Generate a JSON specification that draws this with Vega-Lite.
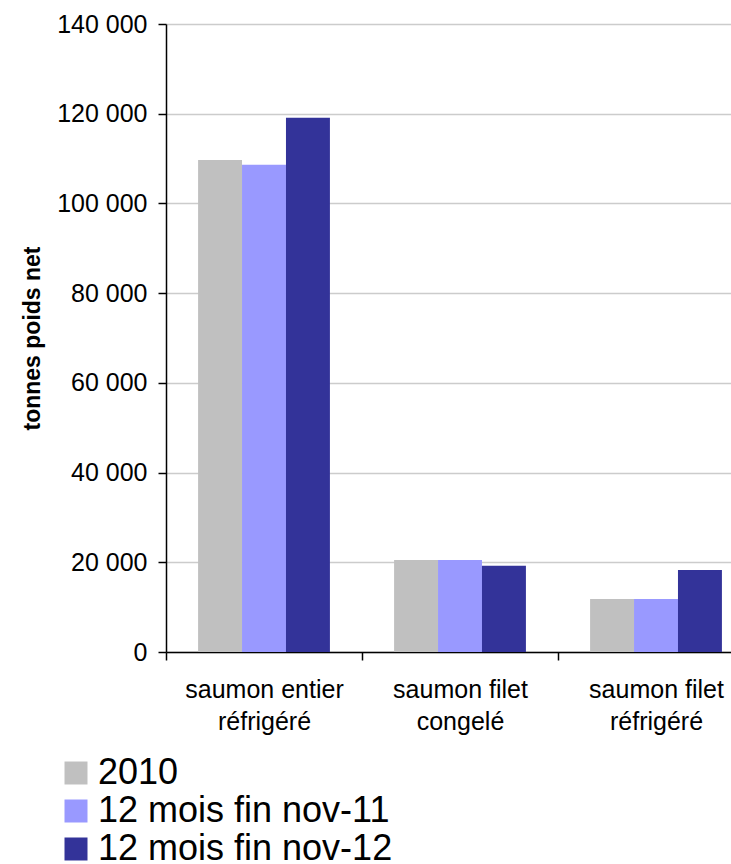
{
  "$schema": "https://vega.github.io/schema/vega-lite/v6.json",
  "width": 565,
  "height": 628,
  "autosize": {"type": "none"},
  "padding": {"left": 166, "top": 24, "right": 0, "bottom": 212},
  "background": "white",
  "data": {
    "values": [
      {"produit": "saumon entier réfrigéré", "serie": "2010", "tonnes": 109700},
      {"produit": "saumon entier réfrigéré", "serie": "12 mois fin nov-11", "tonnes": 108600},
      {"produit": "saumon entier réfrigéré", "serie": "12 mois fin nov-12", "tonnes": 119100},
      {"produit": "saumon filet congelé", "serie": "2010", "tonnes": 20500},
      {"produit": "saumon filet congelé", "serie": "12 mois fin nov-11", "tonnes": 20500},
      {"produit": "saumon filet congelé", "serie": "12 mois fin nov-12", "tonnes": 19200},
      {"produit": "saumon filet réfrigéré", "serie": "2010", "tonnes": 11800},
      {"produit": "saumon filet réfrigéré", "serie": "12 mois fin nov-11", "tonnes": 11800},
      {"produit": "saumon filet réfrigéré", "serie": "12 mois fin nov-12", "tonnes": 18300}
    ]
  },
  "mark": {"type": "bar", "clip": true},
  "encoding": {
    "x": {
      "field": "produit",
      "type": "nominal",
      "sort": ["saumon entier réfrigéré", "saumon filet congelé", "saumon filet réfrigéré"],
      "scale": {"range": [0, 588], "paddingInner": 0, "paddingOuter": 0},
      "axis": {
        "title": null,
        "labelAngle": 0,
        "labelExpr": "[slice(datum.label, 0, lastindexof(datum.label, ' ')), slice(datum.label, lastindexof(datum.label, ' ') + 1)]",
        "labelFont": "Liberation Sans",
        "labelFontSize": 25,
        "labelColor": "black",
        "labelLineHeight": 32,
        "labelPadding": 17,
        "labelLimit": 0,
        "domainColor": "black",
        "domainWidth": 1.5,
        "tickColor": "black",
        "tickWidth": 1.5,
        "tickSize": 8,
        "tickBand": "extent",
        "grid": false
      }
    },
    "xOffset": {
      "field": "serie",
      "sort": ["2010", "12 mois fin nov-11", "12 mois fin nov-12"],
      "scale": {"paddingInner": 0, "paddingOuter": 0.73}
    },
    "y": {
      "field": "tonnes",
      "type": "quantitative",
      "scale": {"domain": [0, 140000], "nice": false},
      "axis": {
        "title": "tonnes poids net",
        "titleFont": "Liberation Sans",
        "titleFontSize": 23,
        "titleFontWeight": "bold",
        "titleColor": "black",
        "titlePadding": 12,
        "values": [0, 20000, 40000, 60000, 80000, 100000, 120000, 140000],
        "labelExpr": "replace(format(datum.value, ','), ',', ' ')",
        "labelFont": "Liberation Sans",
        "labelFontSize": 25,
        "labelColor": "black",
        "labelPadding": 11,
        "domainColor": "black",
        "domainWidth": 1.5,
        "tickColor": "black",
        "tickWidth": 1.5,
        "tickSize": 8,
        "grid": true,
        "gridColor": "#cccccc",
        "gridWidth": 1.5
      }
    },
    "color": {
      "field": "serie",
      "type": "nominal",
      "sort": ["2010", "12 mois fin nov-11", "12 mois fin nov-12"],
      "scale": {
        "domain": ["2010", "12 mois fin nov-11", "12 mois fin nov-12"],
        "range": ["#C0C0C0", "#9999FF", "#333399"]
      },
      "legend": {
        "title": null,
        "orient": "none",
        "legendX": -108,
        "legendY": 731,
        "symbolType": "square",
        "symbolSize": 529,
        "symbolStrokeWidth": 0,
        "labelFont": "Liberation Sans",
        "labelFontSize": 36,
        "labelColor": "black",
        "labelOffset": 4,
        "rowPadding": 2,
        "labelLimit": 0
      }
    }
  },
  "config": {"view": {"stroke": null}}
}
